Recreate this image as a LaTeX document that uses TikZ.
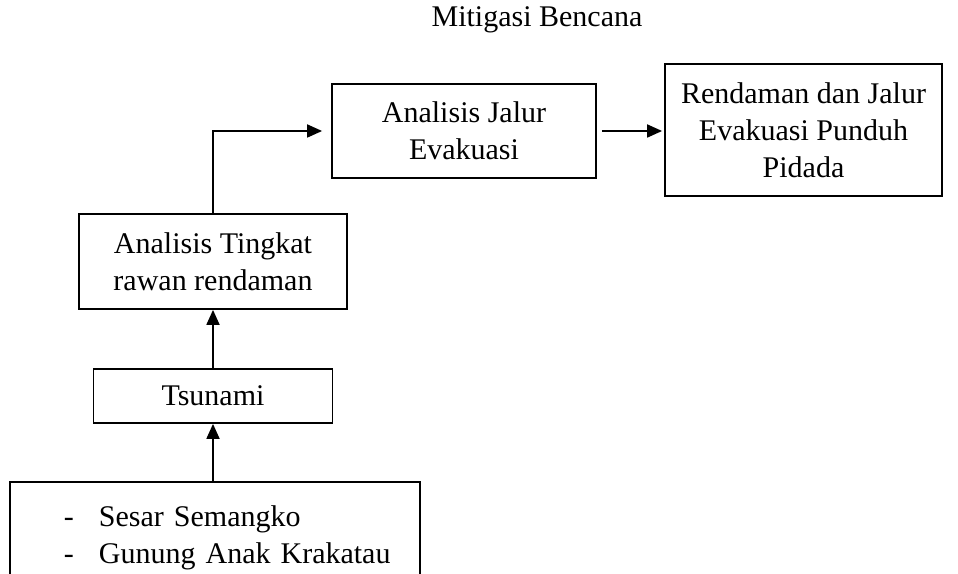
\documentclass[tikz,border=0pt]{standalone}
\usepackage{fontspec}
\setmainfont{Liberation Serif}
\usetikzlibrary{arrows.meta}
\begin{document}
\begin{tikzpicture}[x=0.5pt, y=0.5pt, line join=miter, >={Triangle[length=7.5pt,width=6.5pt]},
    font=\fontsize{15}{18.5}\selectfont,
    kotak/.style={draw, line width=0.9pt, align=center, inner sep=0pt}]
                \useasboundingbox (0,0) rectangle (958,573);
                \node (judul) at (537,546) [anchor=base]{Mitigasi Bencana};
                \node (tingkat) at (213,311.5) [kotak, minimum width=134pt, minimum height=47.5pt]{Analisis Tingkat\\rawan rendaman};
                \node (jalur) at (464,442) [kotak, minimum width=132pt, minimum height=47pt]{Analisis Jalur\\Evakuasi};
                \node (rendaman) at (803.5,443) [kotak, minimum width=138.5pt, minimum height=66pt]{Rendaman dan Jalur\\Evakuasi Punduh\\Pidada};
                \node (tsunami) at (213,177) [kotak, minimum width=119.5pt, minimum height=27pt]{Tsunami};
                \node (sumber) at (215,92) [kotak, anchor=north, align=left, text width=205pt, minimum height=56pt]{\hspace*{27pt}\begin{tabular}{@{}l@{\hspace{12.5pt}}l@{}}
                    - & Sesar Semangko\\
                    - & Gunung Anak Krakatau
                \end{tabular}}; % terpotong di bawah
                \draw[->, line width=0.9pt] (tsunami.south |- sumber.north)--(tsunami.south);
                \draw[->, line width=0.9pt] (tsunami.north)--(tingkat.south);
                \draw[->, line width=0.9pt, shorten >=4.5pt] (tingkat.north) |- (jalur.west);
                \draw[->, line width=0.9pt, shorten <=2.5pt, shorten >=1pt] (jalur.east)--(jalur.east -| rendaman.west);
            \end{tikzpicture}
\end{document}
